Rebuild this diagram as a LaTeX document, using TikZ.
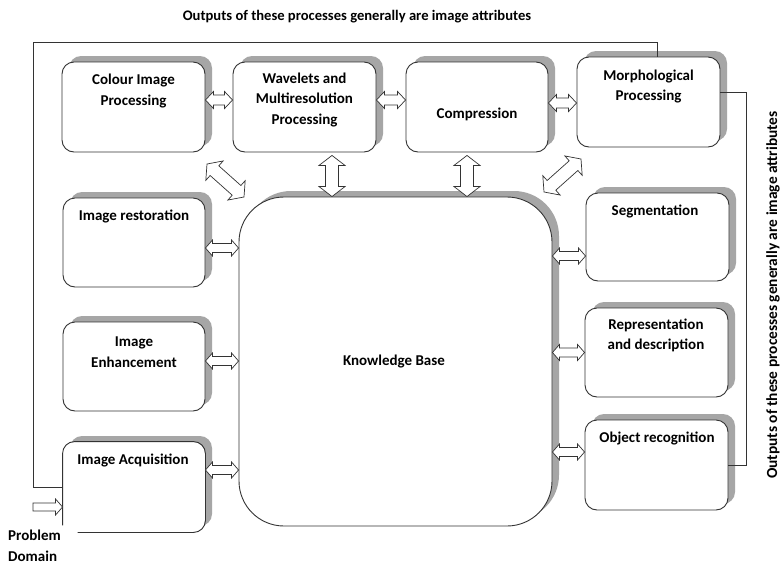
\documentclass[tikz,border=0pt]{standalone}
\usepackage{fontspec}
\setmainfont{Carlito}
\usetikzlibrary{calc,shadows}
\definecolor{edge}{HTML}{333333}
\definecolor{shade}{HTML}{A6A6A6}
\tikzset{
  box/.style={draw=edge, line width=0.9pt, rounded corners=12pt, fill=white,
    minimum width=143pt, minimum height=90pt, inner sep=0pt,
    general shadow={fill=shade, shadow xshift=7pt, shadow yshift=6pt}},
  boxline/.style={draw=edge, line width=0.9pt, rounded corners=12pt},
  lbl/.style={font=\bfseries\fontsize{15}{20.5}\selectfont, align=center, inner sep=0pt},
  arrowbox/.style={draw=edge, line width=0.7pt, fill=white, line join=miter},
  frame/.style={draw=edge, line width=0.8pt},
}
\newcommand\blockarrow[5]{%
  \draw[arrowbox] (#4) -- ($(#4)!#3!(#5)!#2!90:(#5)$) -- ($(#4)!#3!(#5)!#1!90:(#5)$)
    -- ($(#5)!#3!(#4)!#1!-90:(#4)$) -- ($(#5)!#3!(#4)!#2!-90:(#4)$) -- (#5)
    -- ($(#5)!#3!(#4)!#2!90:(#4)$) -- ($(#5)!#3!(#4)!#1!90:(#4)$)
    -- ($(#4)!#3!(#5)!#1!-90:(#5)$) -- ($(#4)!#3!(#5)!#2!-90:(#5)$) -- cycle;}
\newcommand\singlearrow[5]{%
  \draw[arrowbox] ($(#4)!#1!90:(#5)$) -- ($(#5)!#3!(#4)!#1!-90:(#4)$)
    -- ($(#5)!#3!(#4)!#2!-90:(#4)$) -- (#5) -- ($(#5)!#3!(#4)!#2!90:(#4)$)
    -- ($(#5)!#3!(#4)!#1!90:(#4)$) -- ($(#4)!#1!-90:(#5)$) -- cycle;}
\begin{document}
\begin{tikzpicture}[x=1pt,y=-1pt]
\useasboundingbox[fill=white] (0,0) rectangle (780,565);

% boxes
\node[box] (colour) at (133.5,107) {};
\node[box] (wave) at (304.5,107) {};
\node[box, minimum width=142pt] (comp) at (477,107) {};
\node[box] (morph) at (648.5,102) {};
\node[box, minimum width=142pt, minimum height=89pt] (rest) at (134,242.5) {};
\node[box, minimum width=142pt, minimum height=89pt] (enh) at (134,366.5) {};
\node[box, minimum width=142pt, draw=none] (acq) at (134,487) {};
\draw[boxline] ($(acq.south west)+(0,-7)$) -- (acq.north west) -- (acq.north east)
  -- (acq.south east) -- ($(acq.south west)+(15,0)$);
\node[box, minimum height=88pt] (seg) at (657.5,237) {};
\node[box, minimum height=89pt] (rep) at (656.5,352.5) {};
\node[box] (obj) at (656.5,465) {};
\node[box, rounded corners=45pt, minimum width=313pt, minimum height=329pt] (KB) at (395.5,361.5) {};

% labels
\node[lbl] (tcolour) at (133.5,91) {Colour Image\\Processing};
\node[lbl] (twave) at (304.5,100) {Wavelets and\\Multiresolution\\Processing};
\node[lbl] (tcomp) at (477,114) {Compression};
\node[lbl] (tmorph) at (648.5,86.5) {Morphological\\Processing};
\node[lbl] (trest) at (134,216) {Image restoration};
\node[lbl] (tenh) at (134,352) {Image\\Enhancement};
\node[lbl] (tacq) at (133,460) {Image Acquisition};
\node[lbl] (tseg) at (655,211) {Segmentation};
\node[lbl] (trep) at (656,335.5) {Representation\\and description};
\node[lbl] (tobj) at (657,438) {Object recognition};
\node[lbl] (tKB) at (394,362) {Knowledge Base};
\node[lbl, align=left, anchor=west] (tprob) at (8,546) {Problem\\Domain};
\node[lbl, font=\bfseries\fontsize{14.6}{16}\selectfont] (ttop) at (357,17) {Outputs of these processes generally are image attributes};
\node[lbl, font=\bfseries\fontsize{15.4}{17}\selectfont, rotate=90] (tright) at (773,295) {Outputs of these processes generally are image attributes};

% feedback frame
\coordinate (f1) at (33,42);
\coordinate (f2) at ($(morph.north)+(8.5,0)$);
\draw[frame] (acq.west) -| (f1) -| (f2);
\coordinate (m1) at ($(morph.east)+(0,-10)$);
\coordinate (m2) at (746,0);
\draw[frame] (m1) -- (m1 -| m2) |- (obj.east);

% problem domain arrow
\coordinate (p1) at (33,507);
\coordinate (p2) at (p1 -| acq.west);
\singlearrow{4pt}{8pt}{7pt}{p1}{p2}

% top row arrows
\coordinate (a1) at ($(colour.east)+(0,-7)$);  \coordinate (a2) at (a1 -| wave.west);
\coordinate (b1) at ($(wave.east)+(0,-7)$);    \coordinate (b2) at (b1 -| comp.west);
\coordinate (c1) at ($(comp.east)+(0,-4)$);    \coordinate (c2) at (c1 -| morph.west);
\blockarrow{5pt}{8.5pt}{8pt}{a1}{a2}
\blockarrow{5pt}{8.5pt}{8pt}{b1}{b2}
\blockarrow{5pt}{8.5pt}{8pt}{c1}{c2}

% vertical arrows
\coordinate (v1) at ($(wave.south)+(27.5,3)$);  \coordinate (v2) at (v1 |- KB.north);
\coordinate (w1) at ($(comp.south)+(-10,3)$);   \coordinate (w2) at (w1 |- KB.north);
\blockarrow{6.5pt}{13pt}{10pt}{v1}{v2}
\blockarrow{6.5pt}{13pt}{10pt}{w1}{w2}

% diagonal arrows
\coordinate (dl1) at (207,164); \coordinate (dl2) at (244,197);
\coordinate (dr1) at (544,192); \coordinate (dr2) at (581,159);
\blockarrow{6.5pt}{13pt}{10pt}{dl1}{dl2}
\blockarrow{6.5pt}{13pt}{10pt}{dr1}{dr2}

% left arrows
\coordinate (l1) at ($(rest.east)+(0,5.5)$);  \coordinate (l2) at (l1 -| KB.west);
\coordinate (e1) at ($(enh.east)+(0,-5.5)$);  \coordinate (e2) at (e1 -| KB.west);
\coordinate (q1) at ($(acq.east)+(0,-17)$);   \coordinate (q2) at (q1 -| KB.west);
\blockarrow{4.5pt}{8pt}{7pt}{l1}{l2}
\blockarrow{4.5pt}{8pt}{7pt}{e1}{e2}
\blockarrow{4.5pt}{8pt}{7pt}{q1}{q2}

% right arrows
\coordinate (s1) at ($(seg.west)+(0,19)$);   \coordinate (s2) at (s1 -| KB.east);
\coordinate (r1) at ($(rep.west)+(0,0)$);    \coordinate (r2) at (r1 -| KB.east);
\coordinate (o1) at ($(obj.west)+(0,-13)$);  \coordinate (o2) at (o1 -| KB.east);
\blockarrow{4.5pt}{8pt}{7pt}{s2}{s1}
\blockarrow{4.5pt}{8pt}{7pt}{r2}{r1}
\blockarrow{4.5pt}{8pt}{7pt}{o2}{o1}
\end{tikzpicture}
\end{document}
